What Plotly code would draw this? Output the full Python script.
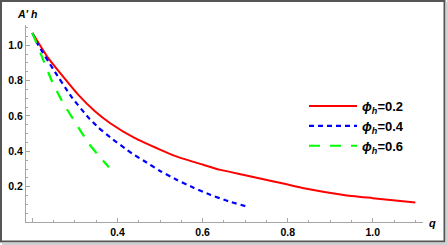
import numpy as np
import plotly.graph_objects as go

# Data
q_red = [0.20, 0.237, 0.268, 0.3075, 0.347, 0.383, 0.44, 0.50, 0.54, 0.60, 0.642, 0.70, 0.759, 0.838, 0.932, 1.00, 1.10]
a_red = [1.07, 0.929, 0.835, 0.721, 0.627, 0.559, 0.476, 0.41, 0.37, 0.325, 0.295, 0.265, 0.234, 0.191, 0.153, 0.135, 0.11]

q_blue = [0.20, 0.213, 0.249, 0.292, 0.331, 0.355, 0.383, 0.434, 0.461, 0.50, 0.54, 0.58, 0.619, 0.66, 0.705]
a_blue = [1.07, 1.005, 0.865, 0.708, 0.593, 0.535, 0.479, 0.388, 0.348, 0.289, 0.238, 0.193, 0.153, 0.118, 0.087]

q_green = [0.20, 0.225, 0.246, 0.272, 0.301, 0.332, 0.355, 0.38]
a_green = [1.07, 0.92, 0.797, 0.674, 0.563, 0.446, 0.378, 0.31]

names = ["<b><i>ϕ<sub>h</sub></i>=0.2</b>", "<b><i>ϕ<sub>h</sub></i>=0.4</b>", "<b><i>ϕ<sub>h</sub></i>=0.6</b>"]

x_tickvals = [0.2, 0.4, 0.6, 0.8, 1.0]
x_ticktext = ["", "<b>0.4</b>", "<b>0.6</b>", "<b>0.8</b>", "<b>1.0</b>"]
y_tickvals = [0.2, 0.4, 0.6, 0.8, 1.0]
y_ticktext = ["<b>0.2</b>", "<b>0.4</b>", "<b>0.6</b>", "<b>0.8</b>", "<b>1.0</b>"]

FONT = "Liberation Sans, Arial, sans-serif"
AX = "#a6a6a6"

fig = go.Figure()
fig.add_trace(go.Scatter(x=q_red, y=a_red, mode="lines", name=names[0],
                         line=dict(color="#ff0000", width=2, shape="spline", smoothing=0.5)))
fig.add_trace(go.Scatter(x=q_blue, y=a_blue, mode="lines", name=names[1],
                         line=dict(color="#0000ff", width=2.2, dash="5px,4px", shape="spline", smoothing=0.5)))
fig.add_trace(go.Scatter(x=q_green, y=a_green, mode="lines", name=names[2],
                         line=dict(color="#00ff00", width=2.2, dash="11px,10px", shape="spline", smoothing=0.5)))

L, R, T, B = 26, 24, 25, 23
W, H = 447, 245
pw, ph = W - L - R, H - T - B

def px(xp):
    return (xp - L) / pw

def py(yp):
    return (H - B - yp) / ph

fig.update_layout(
    width=W, height=H,
    margin=dict(l=L, r=R, t=T, b=B, pad=0, autoexpand=False),
    paper_bgcolor="white", plot_bgcolor="white",
    font=dict(family=FONT, size=10.5, color="black"),
    showlegend=True,
    legend=dict(x=px(304), y=py(91), xanchor="left", yanchor="top",
                font=dict(family=FONT, size=13, color="black"),
                bgcolor="rgba(0,0,0,0)", itemwidth=48, tracegroupgap=0),
    xaxis=dict(range=[0.185, 1.118], showgrid=False, zeroline=False, automargin=False,
               showline=True, linecolor=AX, linewidth=1,
               ticks="inside", ticklen=4, tickcolor=AX, tickwidth=1,
               tickmode="array", tickvals=x_tickvals, ticktext=x_ticktext,
               tickfont=dict(family=FONT, size=10.5, color="black"),
               minor=dict(ticks="inside", ticklen=2, tickcolor=AX,
                          tickmode="linear", tick0=0, dtick=0.05),
               fixedrange=True),
    yaxis=dict(range=[0, 1.115], showgrid=False, zeroline=False, automargin=False,
               showline=True, linecolor=AX, linewidth=1,
               ticks="inside", ticklen=4, tickcolor=AX, tickwidth=1,
               tickmode="array", tickvals=y_tickvals, ticktext=y_ticktext,
               tickfont=dict(family=FONT, size=10.5, color="black"),
               minor=dict(ticks="inside", ticklen=2, tickcolor=AX,
                          tickmode="linear", tick0=0, dtick=0.05),
               fixedrange=True),
)

fig.add_annotation(x=0.2, y=py(14), xref="x", yref="paper",
                   text="<b><i>A' h</i></b>", showarrow=False,
                   font=dict(family=FONT, size=10.5, color="black"),
                   xanchor="center", yanchor="middle", xshift=-5)
fig.add_annotation(x=px(433), y=py(223), xref="paper", yref="paper",
                   text="<b><i>q</i></b>", showarrow=False,
                   font=dict(family=FONT, size=11, color="black"),
                   xanchor="center", yanchor="middle")

# outer frame
fig.add_shape(type="rect", xref="paper", yref="paper",
              x0=px(1), x1=px(444.5), y0=py(241.5), y1=py(1),
              line=dict(color="#555555", width=2), fillcolor="rgba(0,0,0,0)")
fig.add_shape(type="rect", xref="paper", yref="paper",
              x0=px(445.5), x1=px(447), y0=py(245), y1=py(2),
              line=dict(width=0), fillcolor="#cfcfcf")
fig.add_shape(type="rect", xref="paper", yref="paper",
              x0=px(2), x1=px(447), y0=py(245), y1=py(242.5),
              line=dict(width=0), fillcolor="#cfcfcf")

fig.write_html("out.html", config={"displayModeBar": False},
               post_script="document.body.style.margin='0';document.body.style.padding='0';document.body.style.overflow='hidden';")
